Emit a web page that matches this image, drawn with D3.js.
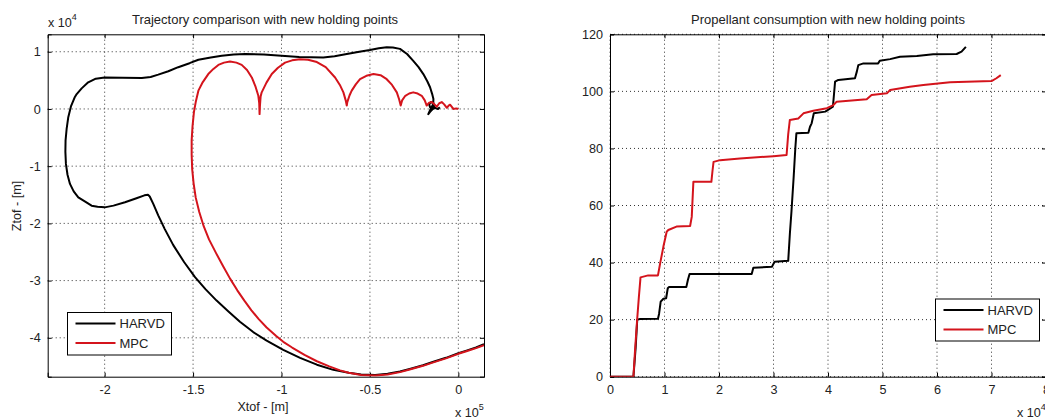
<!DOCTYPE html>
<html>
<head>
<meta charset="utf-8">
<script src="https://d3js.org/d3.v7.min.js"></script>
<style>
  body { margin: 0; background: #fff; }
  svg text { font-family: "Liberation Sans", Arial, sans-serif; fill: #222; }
</style>
</head>
<body>
<svg width="1045" height="419"></svg>
<script>
// ---- data (x in 1e5 m, z in 1e4 m) ----
var harvdTraj = [
  [0.145,-4.11],[0.10,-4.17],[0.05,-4.22],[0,-4.27],[-0.07,-4.35],[-0.141,-4.42],[-0.2,-4.48],
  [-0.27,-4.54],[-0.33,-4.59],[-0.4,-4.63],[-0.47,-4.65],[-0.55,-4.64],[-0.62,-4.61],[-0.707,-4.56],
  [-0.8,-4.47],[-0.895,-4.35],[-0.99,-4.21],[-1.084,-4.05],[-1.16,-3.90],[-1.235,-3.72],[-1.30,-3.54],
  [-1.367,-3.35],[-1.43,-3.15],[-1.489,-2.94],[-1.55,-2.68],[-1.612,-2.38],[-1.66,-2.10],[-1.697,-1.86],
  [-1.725,-1.66],[-1.745,-1.53],[-1.755,-1.50],[-1.775,-1.51],[-1.82,-1.56],[-1.885,-1.63],[-1.95,-1.69],
  [-2.0,-1.72],[-2.04,-1.71],[-2.074,-1.69],[-2.11,-1.62],[-2.149,-1.545],[-2.175,-1.44],[-2.196,-1.31],
  [-2.21,-1.15],[-2.219,-0.96],[-2.222,-0.75],[-2.221,-0.55],[-2.215,-0.35],[-2.206,-0.15],[-2.19,0.05],
  [-2.17,0.20],[-2.158,0.26],[-2.13,0.36],[-2.093,0.465],[-2.05,0.53],[-2.0,0.55],[-1.9,0.545],
  [-1.79,0.54],[-1.74,0.56],[-1.697,0.60],[-1.64,0.66],[-1.584,0.73],[-1.52,0.80],[-1.47,0.86],
  [-1.40,0.90],[-1.338,0.93],[-1.27,0.95],[-1.206,0.96],[-1.1,0.95],[-1.0,0.93],[-0.9,0.91],
  [-0.764,0.90],[-0.70,0.92],[-0.631,0.96],[-0.56,1.0],[-0.5,1.03],[-0.45,1.06],[-0.405,1.08],
  [-0.37,1.075],[-0.33,1.05],[-0.29,0.96],[-0.255,0.84],[-0.225,0.73],[-0.198,0.61],[-0.175,0.48],
  [-0.16,0.38],[-0.148,0.26],[-0.141,0.175],[-0.142,0.10],[-0.135,0.06],[-0.145,0.01],[-0.16,0.03],
  [-0.165,0.08],[-0.155,0.12],[-0.14,0.10],[-0.16,-0.02],[-0.17,-0.09],[-0.16,-0.05],[-0.145,0.0],
  [-0.13,0.02],[-0.115,0.0],[-0.105,0.03]
];
var mpcTraj = [
  [0.145,-4.13],[0.10,-4.18],[0.05,-4.23],[0,-4.28],[-0.07,-4.36],[-0.141,-4.43],[-0.2,-4.49],
  [-0.27,-4.55],[-0.33,-4.60],[-0.4,-4.64],[-0.47,-4.66],[-0.55,-4.65],[-0.62,-4.61],[-0.669,-4.57],
  [-0.73,-4.50],[-0.80,-4.41],[-0.87,-4.30],[-0.94,-4.17],[-0.99,-4.07],[-1.03,-3.97],[-1.084,-3.82],
  [-1.13,-3.67],[-1.17,-3.52],[-1.21,-3.35],[-1.25,-3.17],[-1.29,-2.97],[-1.33,-2.75],[-1.37,-2.52],
  [-1.41,-2.28],[-1.44,-2.05],[-1.465,-1.80],[-1.485,-1.55],[-1.497,-1.30],[-1.505,-1.05],[-1.508,-0.80],
  [-1.508,-0.55],[-1.503,-0.30],[-1.495,-0.05],[-1.485,0.12],[-1.47,0.32],[-1.445,0.47],[-1.414,0.61],
  [-1.385,0.70],[-1.357,0.77],[-1.325,0.81],[-1.291,0.83],[-1.255,0.81],[-1.225,0.77],[-1.195,0.68],
  [-1.168,0.55],[-1.148,0.40],[-1.131,0.23],[-1.126,0.10],[-1.124,-0.09],[-1.122,0.05],[-1.118,0.22],
  [-1.112,0.29],[-1.085,0.46],[-1.055,0.61],[-1.02,0.72],[-0.98,0.81],[-0.94,0.85],[-0.895,0.87],
  [-0.85,0.86],[-0.80,0.82],[-0.75,0.73],[-0.697,0.55],[-0.67,0.42],[-0.65,0.29],[-0.637,0.15],
  [-0.631,0.06],[-0.628,0.12],[-0.615,0.24],[-0.603,0.32],[-0.58,0.43],[-0.556,0.52],[-0.52,0.58],
  [-0.48,0.61],[-0.44,0.59],[-0.405,0.52],[-0.375,0.42],[-0.348,0.29],[-0.335,0.17],[-0.326,0.06],
  [-0.318,0.15],[-0.30,0.23],[-0.278,0.27],[-0.255,0.29],[-0.23,0.27],[-0.207,0.23],[-0.19,0.15],
  [-0.179,0.06],[-0.165,0.11],[-0.15,0.12],[-0.135,0.08],[-0.122,0.04],[-0.108,0.10],[-0.094,0.12],
  [-0.08,0.08],[-0.065,0.02],[-0.055,0.06],[-0.047,0.075],[-0.038,0.04],[-0.028,0.0],[-0.012,0.01],[0,0.0]
];
// propellant (time in 1e4 s)
var harvdFuel = [
  [0,0],[0.43,0],[0.47,10],[0.5,20],[0.55,20.2],[0.88,20.3],[0.9,22],[0.93,26.3],[0.98,27.3],[1.03,27.5],
  [1.06,31],[1.08,31.4],[1.40,31.4],[1.43,34],[1.46,36],[2.60,36],[2.63,38.2],[2.97,38.5],[3.02,40.3],
  [3.27,40.6],[3.30,50],[3.33,58],[3.37,70],[3.40,80],[3.42,85.3],[3.64,85.5],[3.67,87.6],[3.70,88.8],
  [3.74,92.3],[3.95,92.9],[4.09,94.6],[4.11,99],[4.13,103.4],[4.19,104],[4.495,104.6],[4.53,107],
  [4.556,109.2],[4.65,109.8],[4.92,109.8],[4.95,110.7],[5.14,111.3],[5.32,112.1],[5.63,112.4],
  [5.93,113.0],[6.36,113.1],[6.45,113.9],[6.53,115.6]
];
var mpcFuel = [
  [0,0],[0.43,0],[0.46,9.4],[0.5,20.5],[0.53,28],[0.56,34.8],[0.7,35.5],[0.88,35.5],[0.92,39.7],
  [0.98,45.6],[1.04,50.8],[1.07,51.4],[1.22,52.6],[1.47,52.8],[1.50,56],[1.53,68.3],[1.86,68.3],
  [1.88,72],[1.90,75.3],[2.02,75.9],[2.385,76.5],[3.0,77.3],[3.24,77.7],[3.27,85],[3.30,90],
  [3.455,90.5],[3.55,92.3],[3.73,93.2],[3.98,94.1],[4.10,95.2],[4.16,96.4],[4.71,97.2],[4.80,98.7],
  [5.08,99.3],[5.14,100.5],[5.50,101.6],[5.75,102.2],[6.24,103.2],[7.0,103.6],[7.09,104.6],[7.17,105.7]
];
var trajXTicks = [-2, -1.5, -1, -0.5, 0];
var trajYTicks = [1, 0, -1, -2, -3, -4];
var fuelXTicks = [0, 1, 2, 3, 4, 5, 6, 7, 8];
var fuelYTicks = [0, 20, 40, 60, 80, 100, 120];
var seriesNames = ["HARVD", "MPC"];
var seriesColors = ["#000000", "#d4141c"];

var svg = d3.select("svg");
var FS = "12.6px";

function drawPanel(opt) {
  var x = opt.x, y = opt.y;
  var g = svg.append("g");
  var x0 = x.range()[0], x1 = x.range()[1], y0 = y.range()[0], y1 = y.range()[1];

  // grid
  g.append("g").selectAll("line").data(opt.xTicks).enter().append("line")
    .attr("x1", function(d){ return x(d); }).attr("x2", function(d){ return x(d); })
    .attr("y1", y0).attr("y2", y1)
    .attr("stroke", "#333").attr("stroke-width", 1).attr("stroke-dasharray", "1,3");
  g.append("g").selectAll("line").data(opt.yTicks).enter().append("line")
    .attr("x1", x0).attr("x2", x1)
    .attr("y1", function(d){ return y(d); }).attr("y2", function(d){ return y(d); })
    .attr("stroke", "#333").attr("stroke-width", 1).attr("stroke-dasharray", "1,3");

  // axes (ticks inside, MATLAB style)
  var fmt = opt.fmt;
  g.append("g").attr("transform", "translate(0," + y0 + ")")
    .call(d3.axisBottom(x).tickValues(opt.xTicks).tickSize(-4).tickPadding(8).tickFormat(fmt));
  g.append("g").attr("transform", "translate(" + x0 + ",0)")
    .call(d3.axisLeft(y).tickValues(opt.yTicks).tickSize(-4).tickPadding(7).tickFormat(fmt));
  g.append("g").attr("transform", "translate(0," + y1 + ")")
    .call(d3.axisTop(x).tickValues(opt.xTicks).tickSize(-4).tickFormat(""));
  g.append("g").attr("transform", "translate(" + x1 + ",0)")
    .call(d3.axisRight(y).tickValues(opt.yTicks).tickSize(-4).tickFormat(""));
  g.selectAll(".domain").attr("stroke", "#000").attr("stroke-width", 1);
  g.selectAll(".tick line").attr("stroke", "#000");
  g.selectAll(".tick text").style("font-size", FS).attr("fill", "#222")
    .style("font-family", "'Liberation Sans', Arial, sans-serif");

  // lines
  var clipId = "clip" + opt.id;
  svg.append("clipPath").attr("id", clipId).append("rect")
    .attr("x", x0).attr("y", y1).attr("width", x1 - x0).attr("height", y0 - y1);
  var line = d3.line().x(function(d){ return x(d[0]); }).y(function(d){ return y(d[1]); });
  g.append("g").attr("clip-path", "url(#" + clipId + ")")
    .selectAll("path").data(opt.series).enter().append("path")
    .attr("d", line).attr("fill", "none")
    .attr("stroke", function(d, i){ return seriesColors[i]; })
    .attr("stroke-width", 2).attr("stroke-linejoin", "round");

  // title
  g.append("text").attr("x", opt.titleX).attr("y", 24)
    .attr("text-anchor", "middle").style("font-size", "13px").text(opt.title);

  // legend
  var L = opt.legend;
  g.append("rect").attr("x", L.x).attr("y", L.y).attr("width", L.w).attr("height", L.h)
    .attr("fill", "#fff").attr("stroke", "#000").attr("stroke-width", 1);
  seriesNames.forEach(function(name, i) {
    var ly = L.y + 11 + i * 19.5;
    g.append("line").attr("x1", L.x + 8).attr("x2", L.x + 48).attr("y1", ly).attr("y2", ly)
      .attr("stroke", seriesColors[i]).attr("stroke-width", 2);
    g.append("text").attr("x", L.x + 52).attr("y", ly + 4.5).style("font-size", "13px").text(name);
  });
  return g;
}

var trajX = d3.scaleLinear().domain([-2.322, 0.145]).range([47.7, 484]);
var trajY = d3.scaleLinear().domain([-4.68, 1.305]).range([376.7, 34.3]);
var gl = drawPanel({
  id: "a", x: trajX, y: trajY, xTicks: trajXTicks, yTicks: trajYTicks,
  fmt: function(d){ return String(d); },
  series: [harvdTraj, mpcTraj],
  title: "Trajectory comparison with new holding points", titleX: 265,
  legend: {x: 67.5, y: 312.5, w: 104, h: 42.5}
});

var fuelX = d3.scaleLinear().domain([0, 8]).range([610, 1046]);
var fuelY = d3.scaleLinear().domain([0, 120]).range([376.7, 34.3]);
var gr = drawPanel({
  id: "b", x: fuelX, y: fuelY, xTicks: fuelXTicks, yTicks: fuelYTicks,
  fmt: function(d){ return String(d); },
  series: [harvdFuel, mpcFuel],
  title: "Propellant consumption with new holding points", titleX: 828,
  legend: {x: 935.5, y: 299, w: 104, h: 42}
});

// axis labels and exponents
function expLabel(g, xPos, yPos, base, exp) {
  var t = g.append("text").attr("x", xPos).attr("y", yPos).style("font-size", FS);
  t.append("tspan").text(base);
  t.append("tspan").attr("dy", -7).style("font-size", "9px").text(exp);
}
expLabel(gl, 48, 27, "x 10", "4");
expLabel(gl, 455, 417, "x 10", "5");
expLabel(gr, 1017, 417, "x 10", "4");
gl.append("text").attr("x", 263).attr("y", 411).attr("text-anchor", "middle")
  .style("font-size", FS).text("Xtof - [m]");
gl.append("text").attr("transform", "translate(21,206) rotate(-90)").attr("text-anchor", "middle")
  .style("font-size", FS).text("Ztof - [m]");
</script>
</body>
</html>
